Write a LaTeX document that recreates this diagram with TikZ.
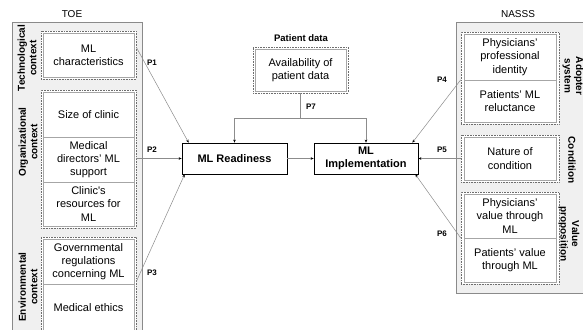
\documentclass[tikz,border=0pt]{standalone}
\usepackage{fontspec}
\setmainfont{Liberation Sans}
\usetikzlibrary{arrows.meta,calc}
\definecolor{outerfill}{HTML}{F0F0F0}
\definecolor{outerdraw}{HTML}{8A8A8A}
\definecolor{innerdraw}{HTML}{A6A6A6}
\definecolor{grpdraw}{HTML}{6E6E6E}
\definecolor{arrdraw}{HTML}{8C8C8C}
\newcommand\bx[7]{\node[#6, minimum width={#4-#2}, minimum height={#5-#3}] (#1) at ({(#2+#4)/2},{(#3+#5)/2}) {#7};}
\begin{document}
\begin{tikzpicture}[x=1pt,y=-1pt,
  outerbox/.style={draw=outerdraw,fill=outerfill,line width=0.8pt},
  grpbox/.style={draw=grpdraw,fill=white,densely dotted,line width=0.6pt,inner sep=0pt},
  inbox/.style={draw=innerdraw,fill=white,line width=0.8pt,inner sep=0pt,align=center,font=\fontsize{11}{13.3}\selectfont},
  mainbox/.style={draw=black,fill=white,line width=0.8pt,inner sep=0pt,align=center,font=\fontsize{11}{13}\selectfont\bfseries},
  sidelbl/.style={align=center,font=\fontsize{10}{11.5}\selectfont\bfseries,inner sep=0pt},
  plbl/.style={font=\fontsize{8}{9}\selectfont\bfseries,inner sep=0pt},
  title/.style={font=\fontsize{10}{12}\selectfont,inner sep=0pt},
  arr/.style={draw=arrdraw,line width=0.5pt,-{Stealth[length=3pt,width=2.6pt,color=black]}}
]
\useasboundingbox (0,0) rectangle (583,329);
\clip (0,0) rectangle (583,329);
\fill[white] (0,0) rectangle (583,329);

% ---------- TOE ----------
\node[title] (toe) at (72,14) {TOE};
\bx{toeouter}{12}{22}{142}{345}{outerbox}{}
\bx{techgrp}{41}{31}{136}{79}{grpbox}{}
\bx{mlchar}{43}{33}{134}{77}{inbox}{ML\\characteristics}
\bx{orggrp}{41}{90}{136}{228}{grpbox}{}
\bx{size}{43}{92}{134}{137}{inbox}{Size of clinic}
\bx{meddir}{43}{137}{134}{182}{inbox}{Medical\\directors’ ML\\support}
\bx{resources}{43}{182}{134}{226}{inbox}{Clinic\textquotesingle s\\resources for\\ML}
\bx{envgrp}{41}{237}{136}{334}{grpbox}{}
\bx{gov}{43}{239}{134}{284}{inbox}{Governmental\\regulations\\concerning ML}
\bx{ethics}{43}{284}{134}{331}{inbox}{Medical ethics}
\node[sidelbl,rotate=90] (techlbl) at (27,58) {Technological\\context};
\node[sidelbl,rotate=90] (orglbl) at (28,142) {Organizational\\context};
\node[sidelbl,rotate=90] (envlbl) at (28,287) {Environmental\\context};

% ---------- NASSS ----------
\node[title] (nasss) at (518,14) {NASSS};
\bx{nasssouter}{456}{22}{595}{293}{outerbox}{}
\bx{adoptgrp}{461}{32}{559}{124}{grpbox}{}
\bx{physid}{464}{34}{556}{80}{inbox}{Physicians’\\professional\\identity}
\bx{patrel}{464}{80}{556}{122}{inbox}{Patients’ ML\\reluctance}
\bx{condgrp}{461}{135}{559}{182}{grpbox}{}
\bx{nature}{464}{137}{556}{180}{inbox}{Nature of\\condition}
\bx{valgrp}{461}{192}{559}{284}{grpbox}{}
\bx{physval}{464}{194}{556}{238}{inbox}{Physicians’\\value through\\ML}
\bx{patval}{464}{238}{556}{282}{inbox}{Patients’ value\\through ML}
\node[sidelbl,rotate=-90] (adoptlbl) at (573,76) {Adopter\\system};
\node[sidelbl,rotate=-90] (condlbl) at (572,160) {Condition};
\node[sidelbl,rotate=-90] (vallbl) at (569,234) {Value\\proposition};

% ---------- Patient data ----------
\node[font=\fontsize{9.5}{11}\selectfont\bfseries,inner sep=0pt] (pdtitle) at (301,38) {Patient data};
\bx{pdgrp}{253}{47}{348}{93}{grpbox}{}
\bx{avail}{255}{49}{346}{91}{inbox}{Availability of\\patient data}

% ---------- Main boxes ----------
\bx{ready}{182}{143}{287}{174}{mainbox}{ML Readiness}
\bx{impl}{314}{143}{418}{174}{mainbox}{ML\\Implementation}

% ---------- Connectors ----------
\draw[arr] ($(techgrp.north east)!0.34!(techgrp.south east)$) -- ($(ready.north west)+(7,0)$);
\draw[arr] (orggrp.east |- ready.west) -- (ready.west);
\draw[arr] ($(gov.south east)+(2,-3)$) -- ($(ready.south west)+(3,0)$);
\draw[arr] ($(adoptgrp.north west)!0.52!(adoptgrp.south west)$) -- ($(impl.north east)+(-6,0)$);
\draw[arr] (condgrp.west |- impl.east) -- (impl.east);
\draw[arr] (valgrp.west) -- ($(impl.south east)+(-3,0)$);
\draw[arr] (ready.east) -- (impl.west);
\draw[arr] (pdgrp.south) -- ++(0,25) -| (ready.north);
\draw[arr] (pdgrp.south) -- ++(0,25) -| (impl.north);

\node[plbl] (p1) at (152,63) {P1};
\node[plbl] (p2) at (152,150) {P2};
\node[plbl] (p3) at (152,273) {P3};
\node[plbl] (p4) at (442,80) {P4};
\node[plbl] (p5) at (442,150) {P5};
\node[plbl] (p6) at (442,234) {P6};
\node[plbl] (p7) at (311,107) {P7};
\end{tikzpicture}
\end{document}
